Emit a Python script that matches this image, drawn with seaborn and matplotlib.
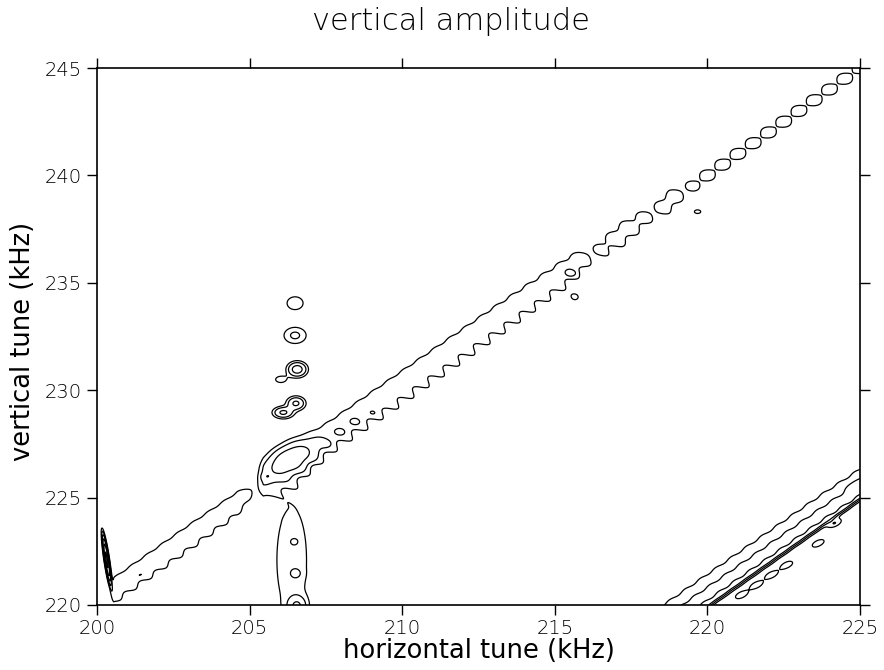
import numpy as np
import matplotlib
matplotlib.use("Agg")
import matplotlib.pyplot as plt
import seaborn as sns

title = "vertical amplitude"
x_label = "horizontal tune (kHz)"
y_label = "vertical tune (kHz)"
x_ticks = [200, 205, 210, 215, 220, 225]
y_ticks = [220, 225, 230, 235, 240, 245]
levels = [1, 2, 4, 8, 16, 32]

# main resonance along vertical = horizontal + offset, knots along horizontal tune
bead_period = 0.5
ridge_x = [200.40, 200.55, 203.0, 204.6, 205.15, 205.25, 205.45, 207.0, 210.0, 213.0,
           215.5, 216.25, 217.2, 218.25, 218.75, 219.25, 219.8, 222.0, 225.0]
ridge_amp = [0.00, 1.55, 1.55, 1.50, 0.90, 0.70, 1.60, 1.75, 1.75, 1.70,
             1.60, 1.00, 1.45, 1.05, 1.45, 1.05, 1.16, 1.16, 1.16]
ridge_mod = [0.05, 0.05, 0.05, 0.05, 0.05, 0.05, 0.06, 0.06, 0.06, 0.08,
             0.12, 0.15, 0.15, 0.15, 0.15, 0.15, 0.15, 0.15, 0.15]
ridge_u0 = [20.15, 20.15, 20.15, 20.15, 20.20, 20.20, 20.25, 20.25, 20.22, 20.20,
            20.15, 20.10, 20.08, 20.05, 20.04, 20.02, 20.00, 20.00, 20.00]
ridge_w = [0.85, 0.85, 0.85, 0.80, 0.70, 0.70, 0.90, 0.92, 0.92, 0.90,
           0.85, 0.80, 0.78, 0.75, 0.72, 0.70, 0.68, 0.68, 0.68]
ridge_scallop = [0.15, 0.15, 0.15, 0.15, 0.10, 0.10, 0.08, 0.25, 0.30, 0.30,
                 0.25, 0.20, 0.15, 0.10, 0.08, 0.05, 0.0, 0.0, 0.0]

# second resonance in the lower right corner
band_x = [218.0, 223.8, 225.0]
band_amp = [5.3, 5.0, 4.6]
band_mod = 0.05
band_u0 = 0.0
band_wup = 0.87
band_wlo = 0.12

# isolated peaks: centre, amplitude, sigma along / across, angle (deg)
peak_x = [206.49, 206.49, 206.56, 206.02, 206.52, 206.10, 206.30, 205.56,
          206.38, 206.47, 206.52, 206.55,
          207.52, 207.98, 208.47, 209.05, 201.41,
          215.53, 215.66, 219.68, 200.32,
          221.12, 221.61, 222.10, 222.60, 223.63, 224.18, 224.89]
peak_y = [234.05, 232.55, 230.97, 230.50, 229.39, 228.96, 226.80, 225.97,
          222.10, 222.95, 221.47, 219.95,
          227.50, 228.05, 228.52, 228.94, 221.40,
          235.45, 234.34, 238.31, 222.10,
          220.47, 220.93, 221.40, 221.86, 222.87, 223.80, 225.59]
peak_amp = [1.5, 2.3, 5.5, 1.4, 4.5, 4.5, 5.0, 1.5,
            1.6, 1.1, 1.2, 3.6,
            0.7, 0.65, 0.6, 0.4, 0.5,
            1.5, 1.5, 1.5, 40.0,
            1.8, 1.8, 1.8, 1.8, 1.8, 1.8, 1.8]
peak_sa = [0.29, 0.28, 0.20, 0.20, 0.19, 0.21, 0.60, 0.12,
           0.50, 0.10, 0.13, 0.20,
           0.12, 0.12, 0.12, 0.09, 0.12,
           0.11, 0.10, 0.11, 0.55,
           0.21, 0.21, 0.21, 0.21, 0.21, 0.21, 0.21]
peak_sb = [0.33, 0.29, 0.22, 0.17, 0.20, 0.17, 0.36, 0.12,
           2.50, 0.12, 0.16, 0.30,
           0.11, 0.11, 0.11, 0.08, 0.03,
           0.10, 0.12, 0.09, 0.035,
           0.11, 0.11, 0.11, 0.11, 0.11, 0.11, 0.11]
peak_ang = [0, 0, 0, 0, 0, 0, 45, 0,
            0, 0, 0, 0,
            0, 0, 0, 0, 30,
            0, 0, 0, 96,
            40, 40, 40, 40, 40, 40, 40]

# build the amplitude map
gx = np.linspace(x_ticks[0], x_ticks[-1], 1601)
gy = np.linspace(y_ticks[0], y_ticks[-1], 1601)
X, Y = np.meshgrid(gx, gy)
U = Y - X
T = (X + Y - 20.0) / 2  # position along the resonance lines

S = np.interp(X, ridge_x, ridge_amp)
M = np.interp(X, ridge_x, ridge_mod)
U0 = np.interp(X, ridge_x, ridge_u0)
W0 = np.interp(X, ridge_x, ridge_w)
SC = np.interp(X, ridge_x, ridge_scallop)
bead = np.cos(np.pi * T / bead_period) ** 2
amp = S * (1 + M * (2 * bead - 1))
D = U - U0
W = np.where(D > 0, W0, W0 * (1 + SC * (2 * bead - 1)))
Z = amp * np.exp(-(D / W) ** 2)

R = np.interp(X, band_x, band_amp) * (1 + band_mod * (2 * bead - 1))
D2 = U - band_u0
Z += R * np.exp(-np.abs(D2) / np.where(D2 > 0, band_wup, band_wlo))

for x0, y0, a0, sa, sb, ang in zip(peak_x, peak_y, peak_amp, peak_sa, peak_sb, peak_ang):
    t = np.deg2rad(ang)
    dx, dy = X - x0, Y - y0
    pa = dx * np.cos(t) + dy * np.sin(t)
    pb = -dx * np.sin(t) + dy * np.cos(t)
    Z += a0 * np.exp(-0.5 * ((pa / sa) ** 2 + (pb / sb) ** 2))

sns.set_theme(style="ticks")
plt.rcParams["font.family"] = ["DejaVu Sans"]
plt.rcParams["font.weight"] = "light"
plt.rcParams["text.color"] = "black"
plt.rcParams["axes.labelcolor"] = "black"
plt.rcParams["xtick.color"] = "black"
plt.rcParams["ytick.color"] = "black"

fig = plt.figure(figsize=(8.84, 6.70), dpi=100)
ax = fig.add_axes([97 / 884, 65 / 670, 763 / 884, 537 / 670])

ax.contour(X, Y, Z, levels=levels, colors="black", linewidths=0.9)

ax.set_xlim(x_ticks[0], x_ticks[-1])
ax.set_ylim(y_ticks[0], y_ticks[-1])
ax.set_xticks(x_ticks)
ax.set_yticks(y_ticks)
ax.tick_params(direction="out", length=7, width=1.0, top=True, right=True,
               labelsize=14, pad=3)
ax.tick_params(axis="y", pad=4)
for sp in ax.spines.values():
    sp.set_visible(True)
    sp.set_linewidth(1.2)
    sp.set_color("black")

ax.set_xlabel(x_label, fontsize=18.5, va="center")
ax.xaxis.set_label_coords(0.5, -0.085)
ax.set_ylabel(y_label, fontsize=18.5, va="center")
ax.yaxis.set_label_coords(-0.097, 0.49)
fig.text(451 / 884, 1 - 22 / 670, title, fontsize=22,
         ha="center", va="center")

fig.savefig("out.png", dpi=100)
plt.close(fig)
